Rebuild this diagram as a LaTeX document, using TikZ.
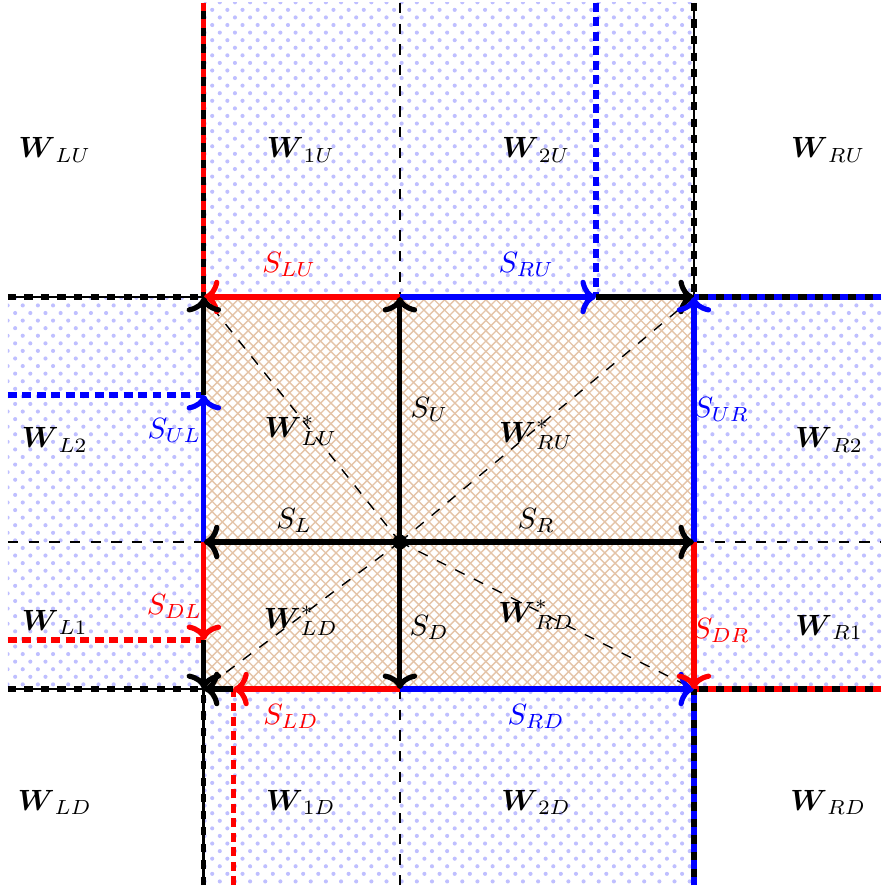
\documentclass[tikz,border=0pt]{standalone}
\usepackage{amsmath}
\usetikzlibrary{arrows.meta,patterns,patterns.meta}

\definecolor{hatch}{RGB}{228,196,168}
\tikzdeclarepattern{
  name=sparsedots, type=uncolored,
  bottom left={(-1pt,-1pt)}, top right={(5.4pt,5.4pt)}, tile size={(4.4pt,4.4pt)},
  code={\fill (0pt,0pt) circle (0.6pt); \fill (2.2pt,2.2pt) circle (0.6pt);}
}
\begin{document}
\begin{tikzpicture}[line width=1.5pt,>={Computer Modern Rightarrow[length=4.5pt,width=10pt]},
  thinline/.style={line width=0.4pt,dash pattern=on 3pt off 3pt},
  bnd/.style={line width=1.5pt,dash pattern=on 2.4pt off 2.4pt},
  ext/.style={line width=1.5pt,dash pattern=on 2.6pt off 1.6pt},
  dotfill/.style={pattern=sparsedots,pattern color=blue!25},
  lab/.style={inner sep=1pt,scale=0.85}]
  \useasboundingbox (-4.08,-3.54) rectangle (4.91,5.53);
  % regiones
  \fill[dotfill] (-2,2.5) rectangle (3,5.5);
  \fill[dotfill] (-2,-1.5) rectangle (3,-3.5);
  \fill[dotfill] (-4,-1.5) rectangle (-2,2.5);
  \fill[dotfill] (3,-1.5) rectangle (4.91,2.5);
  \fill[pattern=crosshatch,pattern color=hatch] (-2,-1.5) rectangle (3,2.5);
  % puntos
  \coordinate (c) at (0,0);
  \coordinate (lu) at (-2,2.5);
  \coordinate (ru) at (3,2.5);
  \coordinate (ld) at (-2,-1.5);
  \coordinate (rd) at (3,-1.5);
  \coordinate (u) at (0,2.5);
  \coordinate (d) at (0,-1.5);
  \coordinate (l) at (-2,0);
  \coordinate (r) at (3,0);
  \coordinate (ua) at (2,2.5);
  \coordinate (la) at (-2,1.5);
  \coordinate (lb) at (-2,-1);
  \coordinate (da) at (-1.7,-1.5);
  \coordinate (top0) at (0,5.5);
  \coordinate (bot0) at (0,-3.5);
  \coordinate (left0) at (-4,0);
  \coordinate (right0) at (4.91,0);
  \coordinate (topL) at (-2,5.5);
  \coordinate (topR) at (3,5.5);
  \coordinate (topA) at (2,5.5);
  \coordinate (botL) at (-2,-3.5);
  \coordinate (botR) at (3,-3.5);
  \coordinate (botA) at (-1.7,-3.5);
  \coordinate (leftU) at (-4,2.5);
  \coordinate (leftD) at (-4,-1.5);
  \coordinate (leftA) at (-4,1.5);
  \coordinate (leftB) at (-4,-1);
  \coordinate (rightU) at (4.91,2.5);
  \coordinate (rightD) at (4.91,-1.5);
  % lineas finas
  \draw[thinline] (top0) -- (u) (d) -- (bot0) (left0) -- (l) (r) -- (right0);
  \draw[thinline] (c) -- (lu) (c) -- (ru) (c) -- (ld) (c) -- (rd);
  % bordes exteriores
  \draw (topL) -- (lu);
  \draw[bnd,red] (topL) -- (lu);
  \draw[line width=0.8pt] (topR) -- (ru);
  \draw[bnd] (topR) -- (ru);
  \draw[line width=0.8pt] (leftU) -- (lu);
  \draw[bnd] (leftU) -- (lu);
  \draw[line width=0.8pt] (leftD) -- (ld);
  \draw[bnd] (leftD) -- (ld);
  \draw[line width=0.8pt] (botL) -- (ld);
  \draw[bnd] (botL) -- (ld);
  \draw (rightU) -- (ru);
  \draw[bnd,blue] (rightU) -- (ru);
  \draw (rightD) -- (rd);
  \draw[bnd,red] (rightD) -- (rd);
  \draw (botR) -- (rd);
  \draw[bnd,blue] (botR) -- (rd);
  % extensiones
  \draw[ext,blue] (topA) -- (ua);
  \draw[ext,red] (botA) -- (da);
  \draw[ext,blue] (leftA) -- (la);
  \draw[ext,red] (leftB) -- (lb);
  % aristas del rectangulo
  \draw[->,red] (u) -- (lu);
  \draw[->,blue] (u) -- (ua);
  \draw[->] (ua) -- (ru);
  \draw[->,blue] (l) -- (la);
  \draw[->] (la) -- (lu);
  \draw[->,red] (l) -- (lb);
  \draw[->] (lb) -- (ld);
  \draw[->,red] (d) -- (da);
  \draw[->] (da) -- (ld);
  \draw[->,blue] (d) -- (rd);
  \draw[->,blue] (r) -- (ru);
  \draw[->,red] (r) -- (rd);
  % cruz central
  \draw[->] (c) -- (u);
  \draw[->] (c) -- (d);
  \draw[->] (c) -- (l);
  \draw[->] (c) -- (r);
  \fill (c) circle (0.075);
  % estados
  \node[lab] (wlu) at (-3.52,4.0) {$\boldsymbol{W}_{LU}$};
  \node[lab] (w1u) at (-1.01,4.0) {$\boldsymbol{W}_{1U}$};
  \node[lab] (w2u) at (1.39,4.0) {$\boldsymbol{W}_{2U}$};
  \node[lab] (wru) at (4.37,4.0) {$\boldsymbol{W}_{RU}$};
  \node[lab] (wl2) at (-3.52,1.04) {$\boldsymbol{W}_{L2}$};
  \node[lab] (wr2) at (4.38,1.04) {$\boldsymbol{W}_{R2}$};
  \node[lab] (wl1) at (-3.52,-0.82) {$\boldsymbol{W}_{L1}$};
  \node[lab] (wr1) at (4.38,-0.87) {$\boldsymbol{W}_{R1}$};
  \node[lab] (wld) at (-3.52,-2.66) {$\boldsymbol{W}_{LD}$};
  \node[lab] (w1d) at (-1.01,-2.66) {$\boldsymbol{W}_{1D}$};
  \node[lab] (w2d) at (1.39,-2.66) {$\boldsymbol{W}_{2D}$};
  \node[lab] (wrd) at (4.37,-2.66) {$\boldsymbol{W}_{RD}$};
  \node[lab] (wslu) at (-1.01,1.14) {$\boldsymbol{W}^*_{LU}$};
  \node[lab] (wsru) at (1.39,1.09) {$\boldsymbol{W}^*_{RU}$};
  \node[lab] (wsld) at (-1.01,-0.80) {$\boldsymbol{W}^*_{LD}$};
  \node[lab] (wsrd) at (1.39,-0.74) {$\boldsymbol{W}^*_{RD}$};
  % ondas
  \node[lab,red] (slu) at (-1.13,2.83) {$S_{LU}$};
  \node[lab,blue] (sru) at (1.29,2.83) {$S_{RU}$};
  \node[lab] (su) at (0.3,1.35) {$S_{U}$};
  \node[lab,blue] (sul) at (-2.3,1.14) {$S_{UL}$};
  \node[lab,blue] (sur) at (3.28,1.35) {$S_{UR}$};
  \node[lab] (sl) at (-1.08,0.22) {$S_{L}$};
  \node[lab] (sr) at (1.39,0.22) {$S_{R}$};
  \node[lab,red] (sdl) at (-2.3,-0.66) {$S_{DL}$};
  \node[lab] (sd) at (0.3,-0.87) {$S_{D}$};
  \node[lab,red] (sdr) at (3.28,-0.9) {$S_{DR}$};
  \node[lab,red] (sld) at (-1.11,-1.78) {$S_{LD}$};
  \node[lab,blue] (srd) at (1.39,-1.78) {$S_{RD}$};
\end{tikzpicture}
\end{document}
